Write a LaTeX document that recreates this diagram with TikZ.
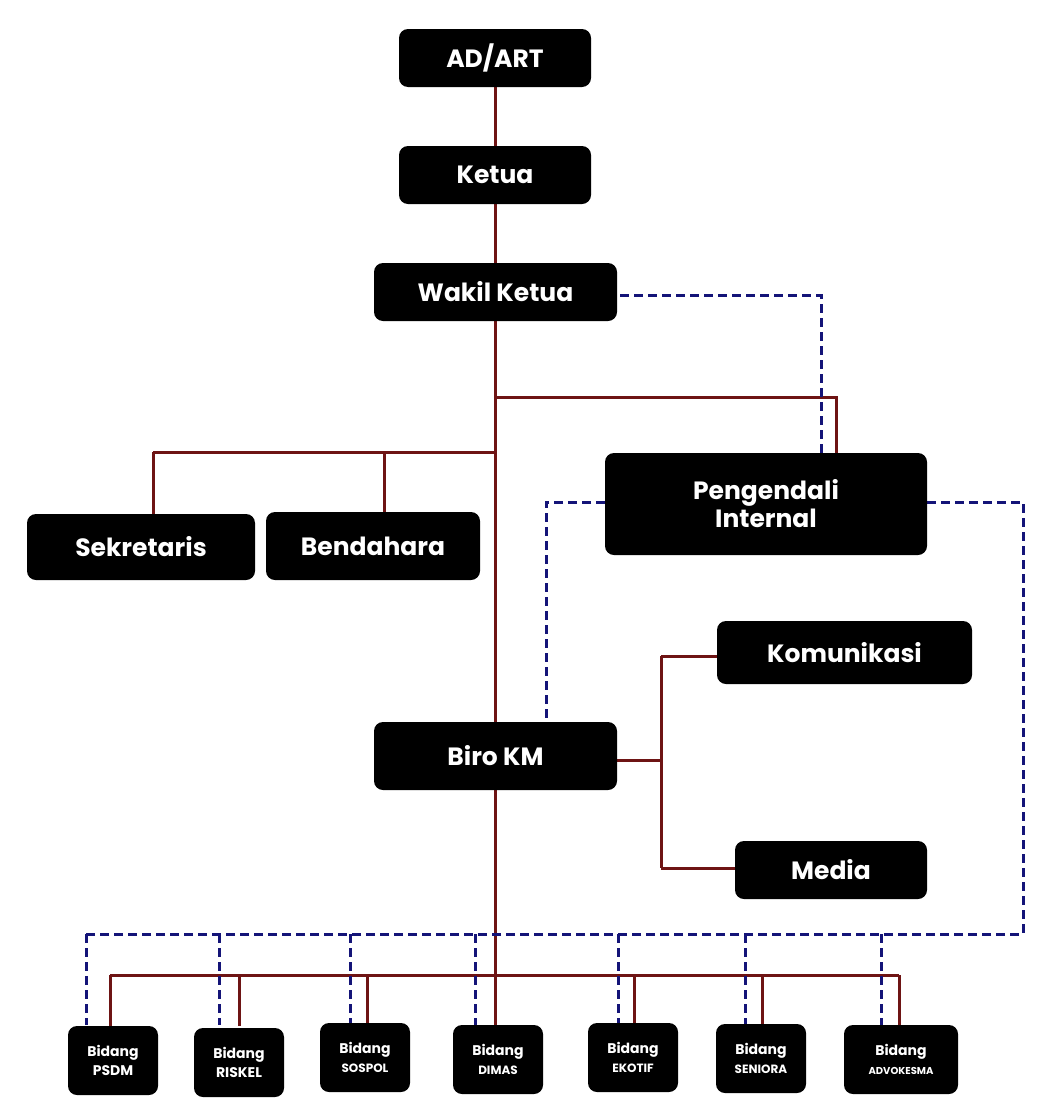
\documentclass[tikz,border=0pt]{standalone}
\usepackage{fontspec}
\setmainfont{Poppins}
\begin{document}
\begin{tikzpicture}[x=1pt,y=-1pt,
  box/.style={fill=black,rounded corners=9pt,text=white,font=\bfseries\fontsize{25}{28}\selectfont,align=center,inner sep=0pt},
  sbox/.style={fill=black,rounded corners=9pt,text=white,font=\bfseries\fontsize{14}{19}\selectfont,align=center,inner sep=0pt},
  red/.style={draw={rgb,255:red,110;green,20;blue,20},line width=3pt},
  blue/.style={draw={rgb,255:red,20;green,20;blue,120},line width=3pt,dash pattern=on 9pt off 5pt}]
\useasboundingbox (0,0) rectangle (1064,1119);
\def\bx#1#2#3#4#5#6#7{\node[#1,minimum width=#4-#2,minimum height=#5-#3] (#6) at ({(#2+#4)/2},{(#3+#5)/2}) {#7};}
% connectors first
\coordinate (t1) at (495,397); \coordinate (t2) at (495,452);
\coordinate (pt) at (836,397); \coordinate (s1) at (153,452); \coordinate (b1) at (384,452);
\coordinate (v1) at (661,760); \coordinate (v2) at (661,656); \coordinate (v3) at (661,868);
\coordinate (h) at (495,975);
\draw[red] (495,58) -- (495,760);
\draw[red] (t1) -- (pt) -- (836,453);
\draw[red] (s1) -- (t2); \draw[red] (s1) -- (153,514); \draw[red] (b1) -- (384,512);
\draw[red] (617,760) -- (v1); \draw[red] (v2) -- (v3); \draw[red] (v2) -- (717,656); \draw[red] (v3) -- (735,868);
\draw[red] (495,760) -- (h);
\draw[red] (110,975) -- (899,975);
\foreach \x in {110,239,367,495,634,762,899} \draw[red] (\x,975) -- (\x,1026);
\draw[blue] (592,295) -- (821,295) -- (821,453);
\draw[blue] (605,502) -- (546,502) -- (546,722);
\draw[blue] (927,502) -- (1023,502) -- (1023,934) -- (86,934);
\foreach \x in {86,219,350,475,618,745,881} \draw[blue] (\x,934) -- (\x,1025);
% boxes
\bx{box}{399}{29}{591}{87}{adart}{AD/ART}
\bx{box}{399}{146}{591}{204}{ketua}{Ketua}
\bx{box}{374}{263}{617}{321}{wakil}{Wakil Ketua}
\bx{box}{27}{514}{255}{580}{sek}{Sekretaris}
\bx{box}{266}{512}{480}{580}{ben}{Bendahara}
\bx{box}{605}{453}{927}{555}{peng}{Pengendali\\Internal}
\bx{box}{717}{621}{972}{684}{kom}{Komunikasi}
\bx{box}{374}{722}{617}{790}{biro}{Biro KM}
\bx{box}{735}{841}{927}{899}{media}{Media}
\bx{sbox}{68}{1026}{158}{1095}{psdm}{Bidang\\PSDM}
\bx{sbox}{194}{1028}{284}{1097}{riskel}{Bidang\\RISKEL}
\bx{sbox}{320}{1023}{410}{1092}{sospol}{Bidang\\{\fontsize{12}{19}\selectfont SOSPOL}}
\bx{sbox}{453}{1025}{543}{1094}{dimas}{Bidang\\{\fontsize{12}{19}\selectfont DIMAS}}
\bx{sbox}{588}{1023}{678}{1092}{ekotif}{Bidang\\{\fontsize{12}{19}\selectfont EKOTIF}}
\bx{sbox}{716}{1024}{806}{1093}{seniora}{Bidang\\{\fontsize{12}{19}\selectfont SENIORA}}
\bx{sbox}{844}{1025}{958}{1094}{adv}{Bidang\\{\fontsize{10}{19}\selectfont ADVOKESMA}}
\end{tikzpicture}
\end{document}
